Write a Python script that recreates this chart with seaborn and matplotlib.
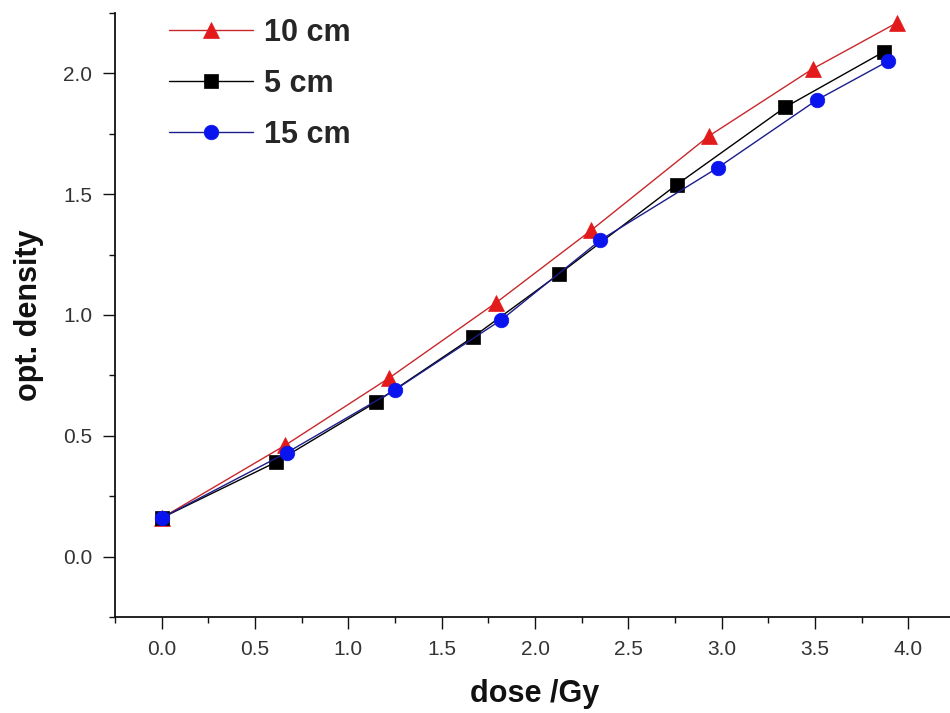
import matplotlib
matplotlib.use("Agg")
import matplotlib.pyplot as plt
from matplotlib.ticker import MultipleLocator, FormatStrFormatter
import pandas as pd
import seaborn as sns

# Optical density of the film vs. delivered dose, measured at three depths
depth_labels = ["10 cm", "5 cm", "15 cm"]

dose_10cm = [0.0, 0.66, 1.22, 1.79, 2.30, 2.93, 3.49, 3.94]
od_10cm = [0.16, 0.46, 0.74, 1.05, 1.35, 1.74, 2.02, 2.21]

dose_5cm = [0.0, 0.61, 1.15, 1.67, 2.13, 2.76, 3.34, 3.87]
od_5cm = [0.16, 0.39, 0.64, 0.91, 1.17, 1.54, 1.86, 2.09]

dose_15cm = [0.0, 0.67, 1.25, 1.82, 2.35, 2.98, 3.51, 3.89]
od_15cm = [0.16, 0.43, 0.69, 0.98, 1.31, 1.61, 1.89, 2.05]

x_ticks = [0.0, 0.5, 1.0, 1.5, 2.0, 2.5, 3.0, 3.5, 4.0]
y_ticks = [0.0, 0.5, 1.0, 1.5, 2.0]

sns.set_style("white")
plt.rcParams["font.family"] = ["Liberation Sans", "DejaVu Sans"]

frames = []
for lab, xs, ys in zip(depth_labels,
                       [dose_10cm, dose_5cm, dose_15cm],
                       [od_10cm, od_5cm, od_15cm]):
    frames.append(pd.DataFrame({"dose": xs, "od": ys, "depth": lab}))
df = pd.concat(frames, ignore_index=True)

styles = {
    "10 cm": dict(line="#c8282c", face="#e31a1c", marker="^", ms=12),
    "5 cm": dict(line="#000000", face="#000000", marker="s", ms=9.5),
    "15 cm": dict(line="#1c1c8c", face="#0a14ee", marker="o", ms=10.5),
}

fig = plt.figure(figsize=(9.5, 7.13), dpi=100)
fig.patch.set_facecolor("white")
W, H = 950, 713
ax = fig.add_axes([115 / W, 96 / H, 840 / W, 604 / H])

for lab in depth_labels:
    st = styles[lab]
    sns.lineplot(data=df[df["depth"] == lab], x="dose", y="od", ax=ax,
                 sort=False, estimator=None, color=st["line"], lw=1.0,
                 marker=st["marker"], markersize=st["ms"],
                 markerfacecolor=st["face"], markeredgecolor=st["face"],
                 markeredgewidth=0.5, label=lab, clip_on=False)

ax.set_xlim(-0.25, 4.25)
ax.set_ylim(-0.25, 2.25)
ax.set_xticks(x_ticks)
ax.set_yticks(y_ticks)
ax.xaxis.set_minor_locator(MultipleLocator(0.25))
ax.yaxis.set_minor_locator(MultipleLocator(0.25))
ax.xaxis.set_major_formatter(FormatStrFormatter("%.1f"))
ax.yaxis.set_major_formatter(FormatStrFormatter("%.1f"))

for side in ["top", "right"]:
    ax.spines[side].set_visible(False)
for side in ["left", "bottom"]:
    ax.spines[side].set_linewidth(1.3)
    ax.spines[side].set_color("#111111")

ax.tick_params(which="major", direction="out", length=8.5, width=1.0,
               color="#111111", pad=8, labelsize=15, labelcolor="#333333")
ax.tick_params(which="minor", direction="out", length=4.5, width=1.0,
               color="#111111")
ax.tick_params(axis="x", which="both", bottom=True)
ax.tick_params(axis="y", which="both", left=True)

label_font = dict(family="Liberation Sans", weight="bold", size=22)
ax.set_xlabel("dose /Gy", fontdict=label_font, color="#111111")
ax.set_ylabel("opt. density", fontdict=label_font, color="#111111")
ax.xaxis.set_label_coords(0.5, -0.102)
ax.yaxis.set_label_coords(-0.085, 0.5)
ax.xaxis.label.set_va("top")

ax.legend(loc="upper left", bbox_to_anchor=(169 / W, 1 - 18 / H),
          bbox_transform=fig.transFigure, frameon=False, borderpad=0,
          borderaxespad=0, handlelength=2.75, handletextpad=0.35,
          labelspacing=0.68, prop=label_font)

ax.grid(False)
fig.savefig("out.png", dpi=100, facecolor="white")
